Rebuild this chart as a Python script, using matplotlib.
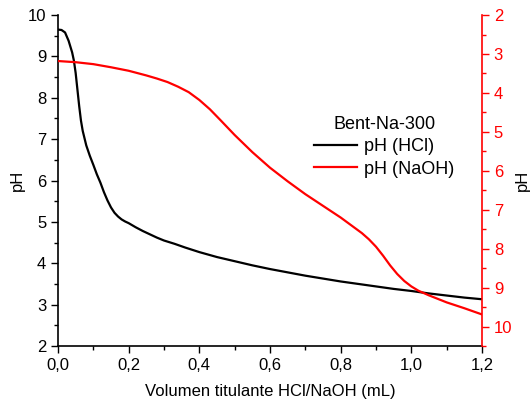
import matplotlib
matplotlib.use("Agg")
import matplotlib.pyplot as plt
from matplotlib.ticker import MultipleLocator, FuncFormatter

plt.rcParams['font.family'] = ['Liberation Sans', 'DejaVu Sans']

# pH (HCl) - eje izquierdo
v_hcl = [0.0, 0.01, 0.02, 0.03, 0.04, 0.045, 0.05, 0.055, 0.06, 0.065, 0.07, 0.08,
         0.09, 0.10, 0.11, 0.12, 0.13, 0.14, 0.15, 0.16, 0.17, 0.18, 0.19, 0.20,
         0.22, 0.24, 0.26, 0.28, 0.30, 0.33, 0.36, 0.40, 0.45, 0.50, 0.55, 0.60,
         0.65, 0.70, 0.75, 0.80, 0.85, 0.90, 0.95, 1.00, 1.05, 1.10, 1.15, 1.20]
ph_hcl = [9.65, 9.64, 9.58, 9.38, 9.10, 8.90, 8.60, 8.20, 7.80, 7.45, 7.20, 6.85,
          6.60, 6.38, 6.15, 5.95, 5.72, 5.52, 5.35, 5.22, 5.13, 5.06, 5.01, 4.97,
          4.87, 4.78, 4.70, 4.62, 4.55, 4.47, 4.38, 4.27, 4.15, 4.05, 3.95, 3.86,
          3.78, 3.70, 3.63, 3.56, 3.50, 3.44, 3.38, 3.33, 3.27, 3.22, 3.17, 3.13]

# pH (NaOH) - eje derecho (invertido)
v_naoh = [0.0, 0.05, 0.10, 0.15, 0.20, 0.25, 0.28, 0.31, 0.34, 0.37, 0.40, 0.43,
          0.46, 0.50, 0.55, 0.60, 0.65, 0.70, 0.75, 0.80, 0.83, 0.86, 0.88, 0.90,
          0.92, 0.94, 0.96, 0.98, 1.00, 1.02, 1.05, 1.10, 1.15, 1.20]
ph_naoh = [3.18, 3.21, 3.26, 3.34, 3.43, 3.55, 3.63, 3.72, 3.84, 3.98, 4.18, 4.42,
           4.70, 5.08, 5.52, 5.92, 6.27, 6.60, 6.90, 7.20, 7.40, 7.60, 7.76, 7.95,
           8.18, 8.43, 8.65, 8.83, 8.97, 9.08, 9.20, 9.38, 9.53, 9.69]

fig = plt.figure(figsize=(5.32, 4.08), dpi=100)
ax = fig.add_axes([0.109, 0.152, 0.797, 0.811])
ax2 = ax.twinx()

l1, = ax.plot(v_hcl, ph_hcl, color='black', lw=1.6)
l2, = ax2.plot(v_naoh, ph_naoh, color='red', lw=1.6)

coma = FuncFormatter(lambda v, p: f"{v:.1f}".replace('.', ','))

ax.set_xlim(0, 1.2)
ax.set_ylim(2, 10)
ax.xaxis.set_major_locator(MultipleLocator(0.2))
ax.xaxis.set_minor_locator(MultipleLocator(0.1))
ax.xaxis.set_major_formatter(coma)
ax.yaxis.set_major_locator(MultipleLocator(1))
ax.yaxis.set_minor_locator(MultipleLocator(0.5))

ax2.set_ylim(10.5, 2)
ax2.yaxis.set_major_locator(MultipleLocator(1))
ax2.yaxis.set_minor_locator(MultipleLocator(0.5))

for a in (ax, ax2):
    a.spines['top'].set_visible(False)
ax.spines['right'].set_visible(False)
ax2.spines['left'].set_visible(False)
ax2.spines['bottom'].set_visible(False)
ax2.spines['right'].set_color('red')
ax2.spines['right'].set_linewidth(1.2)
ax.spines['left'].set_linewidth(1.2)
ax.spines['bottom'].set_linewidth(1.2)

ax.tick_params(which='major', direction='out', length=5, width=1.0, labelsize=12)
ax.tick_params(which='minor', direction='out', length=3, width=1.0)
ax2.tick_params(which='major', direction='out', length=5, width=1.0, labelsize=12,
                colors='red')
ax2.tick_params(which='minor', direction='out', length=3, width=1.0, colors='red')

ax.set_xlabel('Volumen titulante HCl/NaOH (mL)', fontsize=12, labelpad=8)
ax.set_ylabel('pH', fontsize=12, labelpad=2)
ax2.set_ylabel('pH', fontsize=12, labelpad=2, rotation=90, color='black')

leg = ax.legend([l1, l2], ['pH (HCl)', 'pH (NaOH)'], title='Bent-Na-300',
                loc='upper left', bbox_to_anchor=(0.565, 0.745), frameon=False,
                fontsize=13, title_fontsize=13, handlelength=2.4,
                handletextpad=0.4, labelspacing=0.3)

fig.savefig('out.png', dpi=100)
